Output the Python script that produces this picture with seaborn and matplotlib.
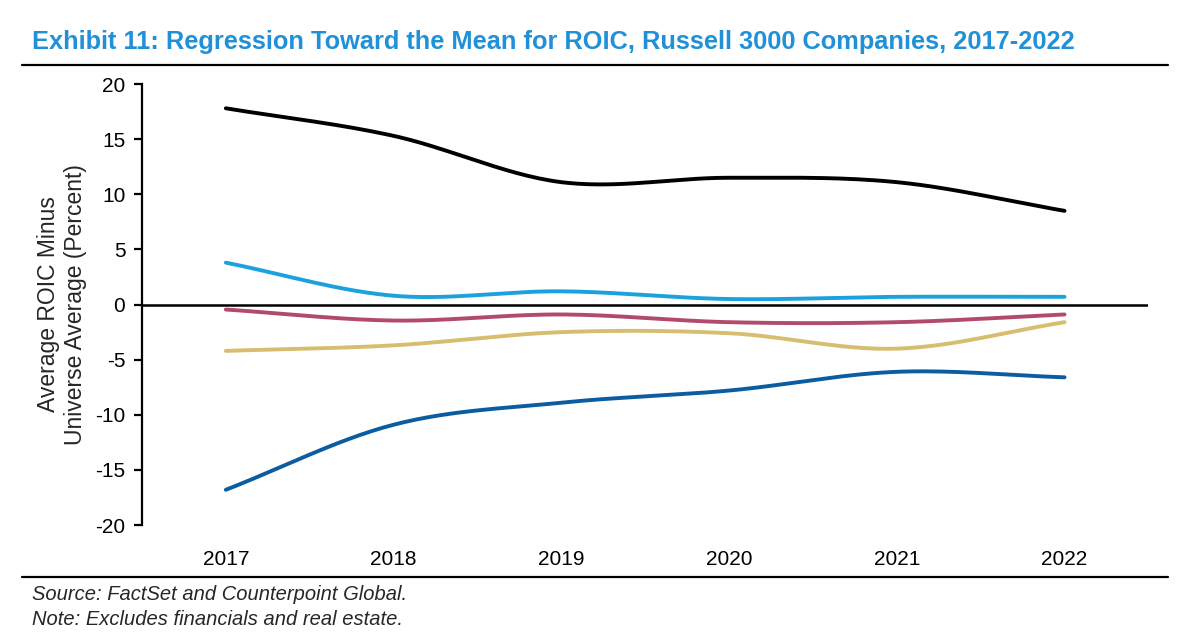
"""Exhibit 11: regression toward the mean for ROIC, Russell 3000, 2017-2022."""

import matplotlib
matplotlib.use("Agg")
import matplotlib.pyplot as plt
import numpy as np
import pandas as pd
import seaborn as sns

YEARS = [2017, 2018, 2019, 2020, 2021, 2022]

# ROIC minus universe average (percent), one list per quintile
Q1 = [17.8, 15.3, 11.1, 11.5, 11.1, 8.5]
Q2 = [3.8, 0.8, 1.2, 0.5, 0.7, 0.7]
Q3 = [-0.45, -1.45, -0.9, -1.6, -1.6, -0.9]
Q4 = [-4.2, -3.7, -2.5, -2.6, -4.0, -1.6]
Q5 = [-16.8, -10.9, -8.9, -7.8, -6.1, -6.6]

SERIES = {"Q1": Q1, "Q2": Q2, "Q3": Q3, "Q4": Q4, "Q5": Q5}
COLORS = {"Q1": "#000000", "Q2": "#1BA1DC", "Q3": "#B24A6C",
          "Q4": "#D6BE6E", "Q5": "#0B5CA0"}


def smooth(x, y, n=30):
    # Catmull-Rom style smoothing, like a spreadsheet "smoothed line"
    x = np.asarray(x, float)
    y = np.asarray(y, float)
    px = np.concatenate([[2 * x[0] - x[1]], x, [2 * x[-1] - x[-2]]])
    py = np.concatenate([[2 * y[0] - y[1]], y, [2 * y[-1] - y[-2]]])
    xs, ys = [], []
    t = np.linspace(0, 1, n, endpoint=False)
    for i in range(1, len(px) - 2):
        for arr, out in ((px, xs), (py, ys)):
            p0, p1, p2, p3 = arr[i - 1], arr[i], arr[i + 1], arr[i + 2]
            out.append(0.5 * (2 * p1 + (-p0 + p2) * t
                              + (2 * p0 - 5 * p1 + 4 * p2 - p3) * t ** 2
                              + (-p0 + 3 * p1 - 3 * p2 + p3) * t ** 3))
    xs.append([x[-1]])
    ys.append([y[-1]])
    return np.concatenate(xs), np.concatenate(ys)


frames = []
for name, vals in SERIES.items():
    sx, sy = smooth(YEARS, vals)
    frames.append(pd.DataFrame({"year": sx, "value": sy, "series": name}))
df = pd.concat(frames, ignore_index=True)

sns.set_theme(style="white")
plt.rcParams["font.family"] = ["Liberation Sans", "DejaVu Sans"]
plt.rcParams["axes.unicode_minus"] = False

fig = plt.figure(figsize=(12, 6.38), dpi=100)
ax = fig.add_axes([0.1183, 0.177, 0.8387, 0.6913])

sns.lineplot(data=df, x="year", y="value", hue="series", palette=COLORS,
             linewidth=2.8, legend=False, ax=ax, sort=False,
             solid_capstyle="round")
ax.axhline(0, color="black", linewidth=1.8, zorder=1)

ax.set_xlim(2016.5, 2022.5)
ax.set_ylim(-20, 20)
ax.set_yticks(range(-20, 21, 5))
ax.set_xticks(YEARS)
ax.set_xticklabels([str(y) for y in YEARS])
ax.set_xlabel("")
ax.set_ylabel("Average ROIC Minus\nUniverse Average (Percent)",
              fontsize=16.5, labelpad=6, linespacing=1.2)

for side in ("top", "right", "bottom"):
    ax.spines[side].set_visible(False)
ax.spines["left"].set_color("black")
ax.spines["left"].set_linewidth(1.6)
ax.tick_params(axis="y", left=True, direction="out", length=6, width=1.6,
               labelsize=15, pad=6, colors="black")
ax.tick_params(axis="x", bottom=False, labelsize=15, pad=12, colors="black")

fig.text(0.027, 0.934, "Exhibit 11: Regression Toward the Mean for ROIC, "
         "Russell 3000 Companies, 2017-2022",
         fontsize=18.3, fontweight="bold", color="#2090D8", va="center")
fig.add_artist(plt.Line2D([0.018, 0.973], [0.898, 0.898],
                          color="black", linewidth=1.6))
fig.add_artist(plt.Line2D([0.018, 0.973], [0.096, 0.096],
                          color="black", linewidth=1.6))
fig.text(0.027, 0.068, "Source: FactSet and Counterpoint Global.",
         fontsize=14.5, style="italic", va="center")
fig.text(0.027, 0.029, "Note: Excludes financials and real estate.",
         fontsize=14.5, style="italic", va="center")

fig.savefig("out.png", dpi=100)
